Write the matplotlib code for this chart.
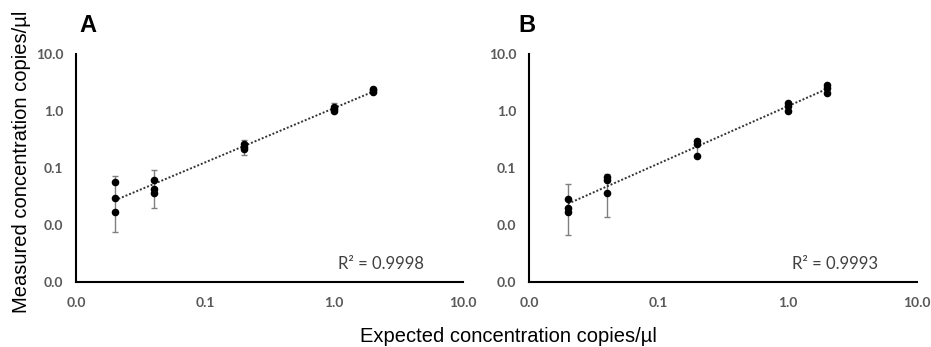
import numpy as np
import matplotlib
matplotlib.use("Agg")
import matplotlib.pyplot as plt

# expected concentration (x) for each replicate
x_vals = [0.02, 0.02, 0.02, 0.04, 0.04, 0.04, 0.2, 0.2, 0.2, 1.0, 1.0, 1.0, 2.0, 2.0, 2.0]
x_levels = [0.02, 0.04, 0.2, 1.0, 2.0]

# panel A measured values
y_a = [0.057, 0.030, 0.017, 0.061, 0.042, 0.037, 0.264, 0.237, 0.216, 1.19, 1.07, 1.02, 2.40, 2.30, 2.18]
err_lo_a = [0.0075, 0.020, 0.169, 0.95, 2.10]
err_hi_a = [0.072, 0.091, 0.306, 1.40, 2.55]

# panel B measured values
y_b = [0.029, 0.020, 0.017, 0.0705, 0.0616, 0.037, 0.294, 0.26, 0.163, 1.36, 1.22, 1.01, 2.82, 2.50, 2.10]
err_lo_b = [0.0066, 0.0138, 0.155, 0.97, 2.0]
err_hi_b = [0.0517, 0.0785, 0.31, 1.45, 2.9]

r2_labels = ["R² = 0.9998", "R² = 0.9993"]
panel_labels = ["A", "B"]
xticks = [0.01, 0.1, 1, 10]
xtick_labels = ["0.0", "0.1", "1.0", "10.0"]
yticks = [0.001, 0.01, 0.1, 1, 10]
ytick_labels = ["0.0", "0.0", "0.1", "1.0", "10.0"]

fig = plt.figure(figsize=(9.31, 3.47), dpi=100)
ax_a = fig.add_axes([0.0816, 0.1873, 0.4157, 0.6571])
ax_b = fig.add_axes([0.5682, 0.1873, 0.4168, 0.6571])


def draw(ax, y, lo, hi, r2, lab, lab_x):
    x = np.array(x_vals)
    y = np.array(y)
    # mean per level for the error bar centre
    means = np.array([y[x == lv].mean() for lv in x_levels])
    yerr = [means - np.array(lo), np.array(hi) - means]
    ax.errorbar(x_levels, means, yerr=yerr, fmt="none", ecolor="#7f7f7f",
                elinewidth=1, capsize=2.5, capthick=1, zorder=2)
    # power trendline (linear fit in log space)
    k, b = np.polyfit(np.log10(x), np.log10(y), 1)
    xf = np.array([min(x_levels), max(x_levels)])
    ax.plot(xf, 10 ** (k * np.log10(xf) + b), color="#333333", lw=1.4,
            ls=(0, (1, 1)), zorder=3)
    ax.scatter(x, y, s=20, color="black", zorder=4)

    ax.set_xscale("log")
    ax.set_yscale("log")
    ax.set_xlim(0.01, 10)
    ax.set_ylim(0.001, 10)
    ax.set_xticks(xticks)
    ax.set_xticklabels(xtick_labels)
    ax.set_yticks(yticks)
    ax.set_yticklabels(ytick_labels)
    ax.minorticks_off()
    ax.tick_params(length=0, labelsize=10, colors="#595959")
    ax.tick_params(axis="x", pad=11)
    ax.tick_params(axis="y", pad=9)
    for t in ax.get_xticklabels() + ax.get_yticklabels():
        t.set_fontfamily("Lato")
        t.set_fontweight("bold")
    ax.spines["top"].set_visible(False)
    ax.spines["right"].set_visible(False)
    ax.spines["left"].set_linewidth(1.5)
    ax.spines["bottom"].set_linewidth(1.5)
    ax.text(0.9, 0.08, r2, transform=ax.transAxes, ha="right", va="center",
            fontsize=12, color="#404040", family="Lato")
    ax.text(lab_x, 1.125, lab, transform=ax.transAxes, ha="left", va="center",
            fontsize=17, fontweight="bold", family="Liberation Sans")


draw(ax_a, y_a, err_lo_a, err_hi_a, r2_labels[0], panel_labels[0], 0.01)
draw(ax_b, y_b, err_lo_b, err_hi_b, r2_labels[1], panel_labels[1], -0.028)

fig.text(0.023, 0.533, "Measured concentration copies/µl", rotation=90,
         ha="center", va="center", fontsize=14.5, family="Liberation Sans")
fig.text(0.546, 0.03, "Expected concentration copies/µl",
         ha="center", va="center", fontsize=14.5, family="Liberation Sans")

fig.savefig("out.png", dpi=100)
